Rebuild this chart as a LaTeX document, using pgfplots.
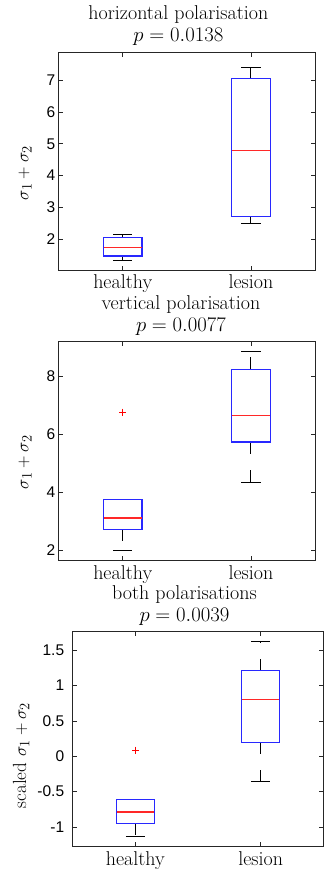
\documentclass[border=0pt]{standalone}
\usepackage{fontspec}
\usepackage{pgfplots}
\pgfplotsset{compat=1.18}
\usepgfplotslibrary{statistics}
\newfontfamily\helv{Liberation Sans}
\definecolor{axgray}{RGB}{38,38,38}
\definecolor{mblue}{RGB}{40,40,255}
\definecolor{mred}{RGB}{255,40,40}
\newcommand{\bigf}{\fontsize{20}{22}\selectfont}
\newcommand{\labf}{\fontsize{19}{20}\selectfont}
\newcommand{\tickf}{\helv\fontsize{15.5}{17}\selectfont}
\pgfplotsset{
  mybox/.style={
    scale only axis,
    xmin=0.5, xmax=2.5,
    xtick={1,2}, xticklabels={healthy,lesion},
    tick align=inside,
    major tick length=4.5pt,
    every tick/.style={draw=axgray, line width=0.6pt},
    axis line style={draw=axgray, line width=0.8pt},
    x tick label style={font=\bigf, yshift=-1pt},
    y tick label style={font=\tickf},
    /pgf/number format/assume math mode=true,
    label style={font=\labf},
    ylabel style={anchor=center},
    title style={font=\bigf, align=center, anchor=south, yshift=-3.5pt},
    boxplot/draw direction=y,
    boxplot/box extend=0.3,
    boxplot/whisker extend=0.15,
    boxplot/draw/box/.code={%
      \path[draw=mblue, line width=1.2pt, solid]
        (boxplot box cs:\pgfplotsboxplotvalue{lower quartile},0) rectangle (boxplot box cs:\pgfplotsboxplotvalue{upper quartile},1);
    },
    boxplot/draw/median/.code={%
      \path[draw=mred, line width=1.2pt, solid]
        (boxplot box cs:\pgfplotsboxplotvalue{median},0) -- (boxplot box cs:\pgfplotsboxplotvalue{median},1);
    },
    boxplot/draw/lower whisker/.code={%
      \path[draw=black, line width=0.9pt, dash pattern=on 12pt off 16pt]
        (boxplot box cs:\pgfplotsboxplotvalue{lower quartile},0.5) -- (boxplot box cs:\pgfplotsboxplotvalue{lower whisker},0.5);
      \path[draw=black, line width=0.9pt, solid]
        (boxplot whisker cs:\pgfplotsboxplotvalue{lower whisker},0) -- (boxplot whisker cs:\pgfplotsboxplotvalue{lower whisker},1);
    },
    boxplot/draw/upper whisker/.code={%
      \path[draw=black, line width=0.9pt, dash pattern=on 12pt off 16pt]
        (boxplot box cs:\pgfplotsboxplotvalue{upper quartile},0.5) -- (boxplot box cs:\pgfplotsboxplotvalue{upper whisker},0.5);
      \path[draw=black, line width=0.9pt, solid]
        (boxplot whisker cs:\pgfplotsboxplotvalue{upper whisker},0) -- (boxplot whisker cs:\pgfplotsboxplotvalue{upper whisker},1);
    },
  },
  bx/.style={mark=+, mark size=3.5pt, mark options={draw=red, solid, line width=0.9pt}},
}
\begin{document}
\begin{tikzpicture}
\path[use as bounding box] (0,-876pt) rectangle (324pt,0);
% ---- plot 1
\begin{axis}[mybox,
  at={(58.7pt,-270pt)}, anchor=south west,
  width=256.3pt, height=218pt,
  ymin=1.04, ymax=7.88, ytick={2,3,4,5,6,7},
  ylabel={$\sigma_1+\sigma_2$},
  ylabel style={at={(axis description cs:-0.131,0.445)}},
  title={horizontal polarisation\\$p=0.0138$},
  title style={at={(axis description cs:0.467,1)}},
]
\addplot[bx, boxplot prepared={draw position=1, median=1.75, upper quartile=2.05, lower quartile=1.48, upper whisker=2.16, lower whisker=1.34}] coordinates {};
\addplot[bx, boxplot prepared={draw position=2, median=4.79, upper quartile=7.04, lower quartile=2.72, upper whisker=7.41, lower whisker=2.49}] coordinates {};
\end{axis}
% ---- plot 2
\begin{axis}[mybox,
  at={(58.7pt,-560.7pt)}, anchor=south west,
  width=256.3pt, height=219pt,
  ymin=1.63, ymax=9.18, ytick={2,4,6,8},
  ylabel={$\sigma_1+\sigma_2$},
  ylabel style={at={(axis description cs:-0.131,0.45)}},
  title={vertical polarisation\\$p=0.0077$},
  title style={at={(axis description cs:0.477,1)}},
]
\addplot[bx, boxplot prepared={draw position=1, median=3.1, upper quartile=3.74, lower quartile=2.71, upper whisker=3.74, lower whisker=1.98}] coordinates {(1,6.75)};
\addplot[bx, boxplot prepared={draw position=2, median=6.63, upper quartile=8.23, lower quartile=5.72, upper whisker=8.83, lower whisker=4.34}] coordinates {};
\end{axis}
% ---- plot 3
\begin{axis}[mybox,
  at={(72.7pt,-846.7pt)}, anchor=south west,
  width=250.6pt, height=215pt,
  ymin=-1.28, ymax=1.76, ytick={-1,-0.5,0,0.5,1,1.5},
  y tick label style={xshift=-5pt},
  ylabel={scaled $\sigma_1+\sigma_2$},
  ylabel style={at={(axis description cs:-0.206,0.425)}},
  title={both polarisations\\$p=0.0039$},
  title style={at={(axis description cs:0.446,1)}},
]
\addplot[bx, boxplot prepared={draw position=1, median=-0.79, upper quartile=-0.61, lower quartile=-0.95, upper whisker=-0.61, lower whisker=-1.14}] coordinates {(1,0.087)};
\addplot[bx, boxplot prepared={draw position=2, median=0.80, upper quartile=1.21, lower quartile=0.196, upper whisker=1.62, lower whisker=-0.357}] coordinates {};
\end{axis}
\end{tikzpicture}
\end{document}
